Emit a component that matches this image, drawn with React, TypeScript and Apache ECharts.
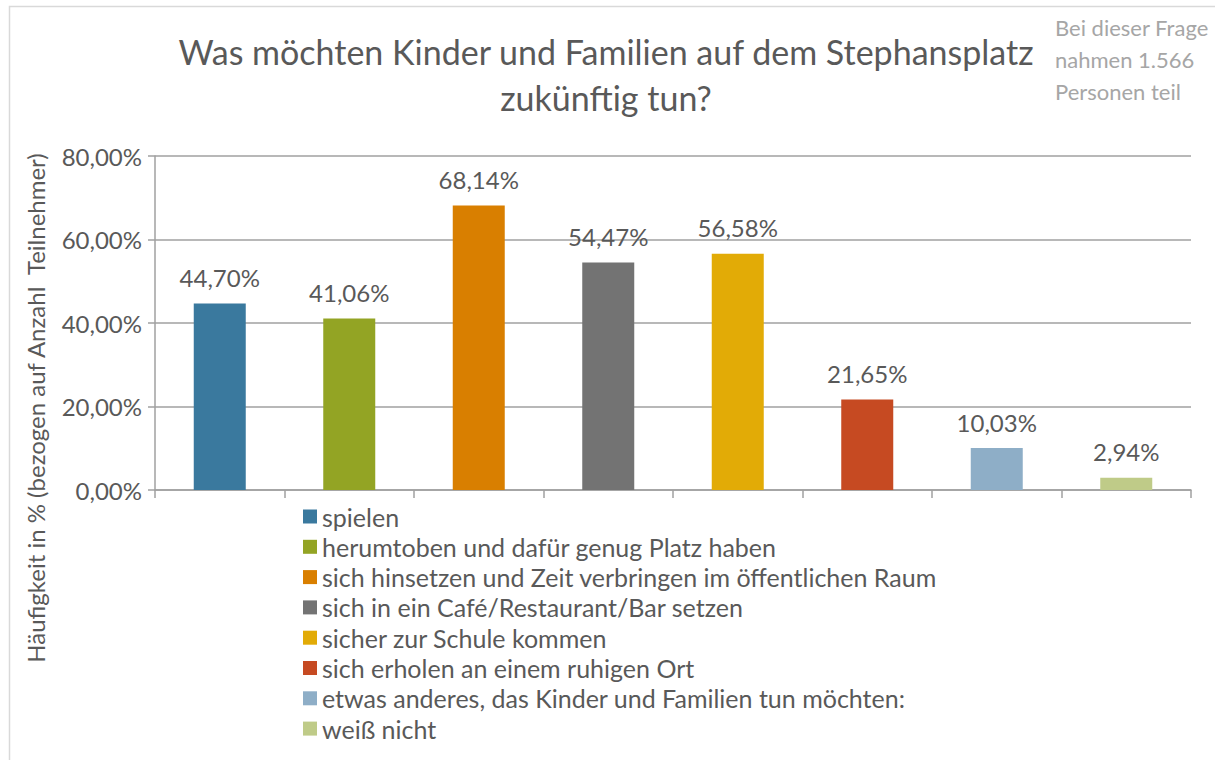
import React, { useEffect, useRef } from "react";
import * as echarts from "echarts";

const categories = [
  "spielen",
  "herumtoben und dafür genug Platz haben",
  "sich hinsetzen und Zeit verbringen im öffentlichen Raum",
  "sich in ein Café/Restaurant/Bar setzen",
  "sicher zur Schule kommen",
  "sich erholen an einem ruhigen Ort",
  "etwas anderes, das Kinder und Familien tun möchten:",
  "weiß nicht",
];
const values = [44.7, 41.06, 68.14, 54.47, 56.58, 21.65, 10.03, 2.94];
const colors = ["#3a799e", "#93a424", "#d97f00", "#737373", "#e2ab06", "#c64a22", "#8eaec7", "#bfcb88"];
const titleLines = ["Was möchten Kinder und Familien auf dem Stephansplatz", "zukünftig tun?"];
const noteLines = ["Bei dieser Frage", "nahmen 1.566", "Personen teil"];
const yAxisTitle = "Häufigkeit in % (bezogen auf Anzahl  Teilnehmer)";

const FONT = "Lato";
const TXT = "#595959";
const fmt = (v: number) => v.toFixed(2).replace(".", ",") + "%";

export default function App() {
  const ref = useRef<HTMLDivElement>(null);
  useEffect(() => {
    if (!ref.current) return;
    const chart = echarts.init(ref.current, null, { renderer: "svg" });
    chart.setOption({
      animation: false,
      backgroundColor: "#ffffff",
      textStyle: { fontFamily: FONT },
      grid: { left: 155, right: 24, top: 156, bottom: 270, containLabel: false },
      xAxis: {
        type: "category",
        data: categories,
        axisLabel: { show: false },
        axisLine: { show: true, lineStyle: { color: "#a0a0a0", width: 1.5 } },
        axisTick: { show: true, interval: 0, length: 8, lineStyle: { color: "#a0a0a0", width: 1.5 } },
        splitLine: { show: false },
      },
      yAxis: {
        type: "value",
        min: 0,
        max: 80,
        interval: 20,
        axisLine: { show: true, lineStyle: { color: "#a0a0a0", width: 1.5 } },
        axisTick: { show: true, length: 7, lineStyle: { color: "#a0a0a0", width: 1.5 } },
        axisLabel: { formatter: (v: number) => fmt(v), fontSize: 24, color: TXT, margin: 13, fontFamily: FONT },
        splitLine: { show: true, lineStyle: { color: "#a0a0a0", width: 1.5 } },
      },
      legend: {
        orient: "vertical",
        left: 303,
        top: 504,
        padding: 0,
        itemWidth: 14,
        itemHeight: 14,
        itemGap: 5.3,
        icon: "rect",
        selectedMode: false,
        textStyle: { fontSize: 25, color: TXT, fontFamily: FONT, lineHeight: 24 },
        data: categories,
      },
      series: categories.map((name, i) => ({
        name,
        type: "bar",
        stack: "all",
        barWidth: 52,
        itemStyle: { color: colors[i] },
        data: values.map((v, j) => (j === i ? v : "-")),
        label: {
          show: true,
          position: "top",
          distance: 14,
          fontSize: 24,
          color: TXT,
          fontFamily: FONT,
          formatter: (p: any) => fmt(p.value),
        },
      })),
      graphic: [
        {
          type: "rect",
          shape: { x: 9.5, y: 6.5, width: 1300, height: 900 },
          style: { fill: "none", stroke: "#d9d9d9", lineWidth: 1.5 },
          silent: true,
        },
        ...titleLines.map((t, i) => ({
          type: "text",
          x: 606,
          y: 51 + i * 46,
          style: { text: t, fontSize: 34, fill: TXT, fontFamily: FONT, textAlign: "center", textVerticalAlign: "middle" },
        })),
        ...noteLines.map((t, i) => ({
          type: "text",
          x: 1055,
          y: 27 + i * 32,
          style: { text: t, fontSize: 22, fill: "#a6a6a6", fontFamily: FONT, textAlign: "left", textVerticalAlign: "middle" },
        })),
        {
          type: "text",
          x: 35,
          y: 408,
          rotation: Math.PI / 2,
          style: { text: yAxisTitle, fontSize: 24, fill: TXT, fontFamily: FONT, textAlign: "center", textVerticalAlign: "middle" },
        },
      ],
    });
    return () => chart.dispose();
  }, []);
  return <div ref={ref} style={{ position: "fixed", left: 0, top: 0, width: 1215, height: 760 }} />;
}
